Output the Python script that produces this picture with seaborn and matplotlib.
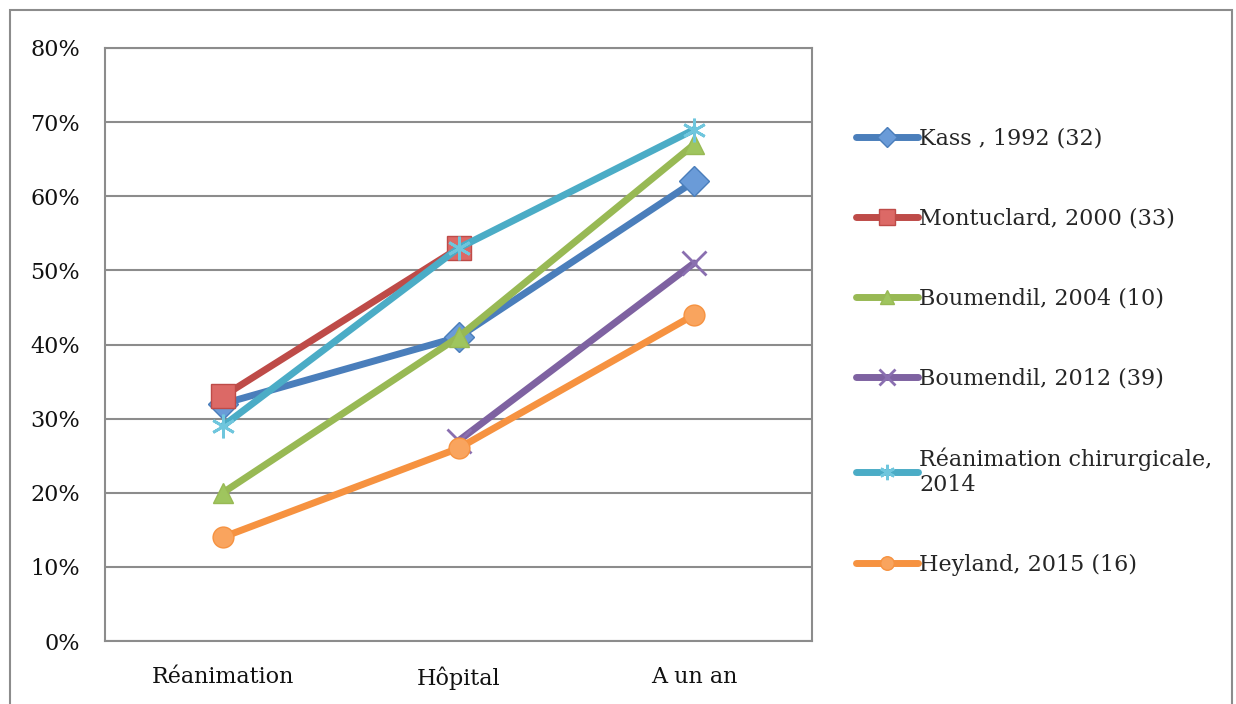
import numpy as np
import pandas as pd
import matplotlib
matplotlib.use("Agg")
import matplotlib.pyplot as plt
import matplotlib.ticker as mticker
from matplotlib.patches import Rectangle
import seaborn as sns

categories = ["Réanimation", "Hôpital", "A un an"]
series = ["Kass , 1992 (32)", "Montuclard, 2000 (33)", "Boumendil, 2004 (10)",
          "Boumendil, 2012 (39)", "Réanimation chirurgicale,\n2014", "Heyland, 2015 (16)"]
kass = [0.32, 0.41, 0.62]
montuclard = [0.33, 0.53, np.nan]
boumendil2004 = [0.20, 0.41, 0.67]
boumendil2012 = [np.nan, 0.27, 0.51]
rea_chir = [0.29, 0.53, 0.69]
heyland = [0.14, 0.26, 0.44]
values = [kass, montuclard, boumendil2004, boumendil2012, rea_chir, heyland]

line_colors = ["#4A7EBB", "#BE4B48", "#98B954", "#7E62A1", "#4BACC6", "#F69240"]
face_colors = ["#6A9BD8", "#DC6966", "#9FC55E", "#8A6FB0", "#6FC6DD", "#F9A45E"]
markers = ["D", "s", "^", "x", (6, 2, 0), "o"]

rows = []
for name, vals in zip(series, values):
    for i, v in enumerate(vals):
        if not np.isnan(v):
            rows.append({"serie": name, "x": i, "val": v})
df = pd.DataFrame(rows)

sns.set_style("white")
plt.rcParams["font.family"] = ["DejaVu Serif"]

fig = plt.figure(figsize=(12.36, 7.04), dpi=100)
ax = fig.add_axes([105/1236, 63/704, (812-105)/1236, (641-48)/704])

handles = []
for name, lc, fc, mk in zip(series, line_colors, face_colors, markers):
    sub = df[df["serie"] == name]
    if mk in ("x", (6, 2, 0)):
        kw = dict(markeredgecolor=fc, markeredgewidth=2, markersize=17)
    elif mk == "s":
        kw = dict(markerfacecolor=fc, markeredgecolor=lc, markeredgewidth=1, markersize=17)
    else:
        kw = dict(markerfacecolor=fc, markeredgecolor=lc, markeredgewidth=1, markersize=15)
    n_before = len(ax.lines)
    sns.lineplot(data=sub, x="x", y="val", color=lc, marker=mk, linewidth=5,
                 legend=False, ax=ax, **kw)
    handles.append(ax.lines[n_before])

gray = "#8C8C8C"
ax.set_xlim(-0.5, 2.5)
ax.set_ylim(0, 0.8)
ax.set_yticks(np.arange(0, 0.81, 0.1))
ax.yaxis.set_major_formatter(mticker.FuncFormatter(lambda v, p: f"{v*100:.0f}%"))
ax.set_xticks(range(len(categories)))
ax.set_xticklabels(categories)
ax.set_xticks([-0.5, 0.5, 1.5, 2.5], minor=True)
ax.tick_params(axis="x", which="major", length=0, pad=18, labelsize=16, colors="#111111")
ax.tick_params(axis="x", which="minor", length=6, width=1.5, color=gray, direction="out")
ax.tick_params(axis="y", which="major", length=6, width=1.5, color=gray, direction="out",
               pad=12, labelsize=16, labelcolor="#111111")
ax.set_xlabel("")
ax.set_ylabel("")
ax.grid(axis="y", color=gray, linewidth=1.5)
ax.grid(axis="x", visible=False)
for s in ax.spines.values():
    s.set_visible(True)
    s.set_color(gray)
    s.set_linewidth(1.5)
ax.set_axisbelow(True)

fig.legend(handles, series, loc="upper left",
           bbox_to_anchor=(856/1236, 1 - 128/704), frameon=False,
           handlelength=2.8, handletextpad=0.05, labelspacing=2.6,
           markerscale=0.65,
           fontsize=16, borderaxespad=0, borderpad=0)

fig.patches.append(Rectangle((10/1236, -0.1), (1232-10)/1236, 1.1 - 10/704,
                             transform=fig.transFigure, fill=False,
                             edgecolor=gray, linewidth=1.5))

fig.savefig("out.png", dpi=100)
